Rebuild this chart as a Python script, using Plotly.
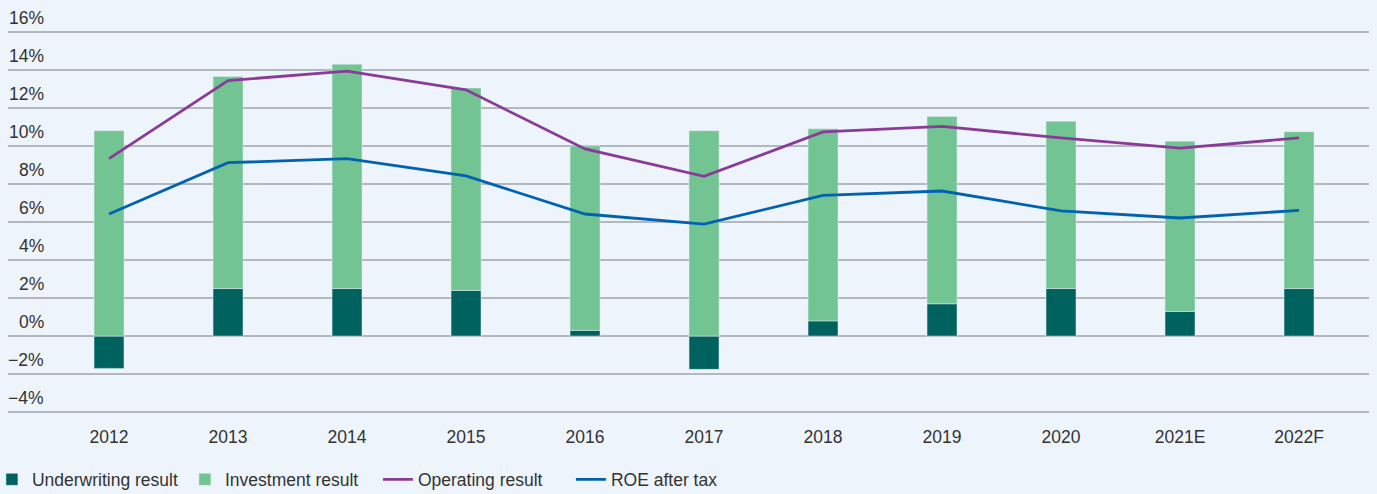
import plotly.graph_objects as go

years = ["2012", "2013", "2014", "2015", "2016", "2017", "2018", "2019", "2020", "2021E", "2022F"]
underwriting = [-1.7, 2.5, 2.5, 2.4, 0.3, -1.75, 0.8, 1.7, 2.5, 1.3, 2.5]
investment = [10.8, 11.15, 11.8, 10.65, 9.7, 10.8, 10.1, 9.85, 8.8, 8.95, 8.25]
operating = [9.33, 13.44, 13.93, 12.95, 9.84, 8.4, 10.74, 11.03, 10.42, 9.89, 10.42]
roe = [6.42, 9.12, 9.33, 8.42, 6.42, 5.89, 7.4, 7.63, 6.59, 6.21, 6.61]

y_ticks = [-4, -2, 0, 2, 4, 6, 8, 10, 12, 14, 16]
y_labels = ["\u22124%", "\u22122%", "0%", "2%", "4%", "6%", "8%", "10%", "12%", "14%", "16%"]

font_name = "Liberation Sans"
text_col = "#333333"
grid_col = "#b4b7bd"
bg = "#eef4fb"

fig = go.Figure()
fig.add_trace(go.Bar(x=years, y=underwriting, name="Underwriting result",
                     marker_color="#00625f", width=0.252))
fig.add_trace(go.Bar(x=years, y=investment, name="Investment result",
                     marker_color="#72c493", width=0.252))
fig.add_trace(go.Scatter(x=years, y=operating, name="Operating result", mode="lines",
                         line=dict(color="#8a3b98", width=2.8)))
fig.add_trace(go.Scatter(x=years, y=roe, name="ROE after tax", mode="lines",
                         line=dict(color="#0062b1", width=2.8)))

# y tick labels sit above the grid lines, right aligned inside the plot
for v, lab in zip(y_ticks, y_labels):
    fig.add_annotation(x=0.0279, xref="paper", y=v, yref="y", text=lab,
                       xanchor="right", yanchor="middle", yshift=14, showarrow=False,
                       font=dict(family=font_name, size=17.5, color=text_col))

fig.update_layout(
    width=1377, height=494,
    margin=dict(l=8, r=8, t=29, b=79, autoexpand=False),
    paper_bgcolor=bg, plot_bgcolor=bg,
    barmode="relative",
    font=dict(family=font_name, size=17.5, color=text_col),
    showlegend=True,
    legend=dict(orientation="h", x=-0.0118, xanchor="left", y=-0.167, yanchor="middle",
                font=dict(size=17.5), bgcolor="rgba(0,0,0,0)", traceorder="normal",
                entrywidth=148),
)
fig.update_xaxes(type="category", range=[-0.849, 10.588], showgrid=False, zeroline=False,
                 showline=False, ticks="outside", ticklen=6, tickcolor="rgba(0,0,0,0)",
                 tickfont=dict(size=17.5, color=text_col))
fig.update_yaxes(range=[-4.15, 16.15], tickvals=y_ticks, showticklabels=False, showgrid=True,
                 gridcolor=grid_col, gridwidth=1.5, zeroline=True, zerolinecolor=grid_col,
                 zerolinewidth=1.5, showline=False)

fig.write_html("out.html", config={"displayModeBar": False},
               post_script="document.body.style.margin='0';document.body.style.background='%s';" % bg)
